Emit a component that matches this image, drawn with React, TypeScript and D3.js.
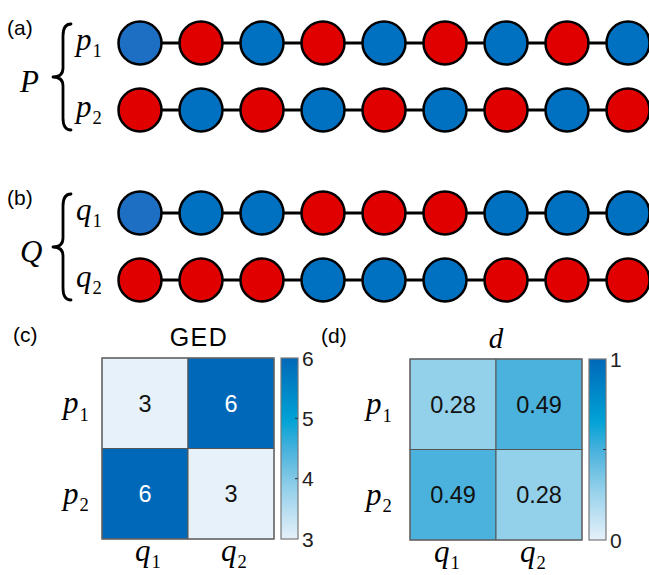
import React from "react";
import * as d3 from "d3";

// Chain colours: "B" blue, "R" red, "L" lighter blue (first node)
const chainP1 = ["L", "R", "B", "R", "B", "R", "B", "R", "B"];
const chainP2 = ["R", "B", "R", "B", "R", "B", "R", "B", "R"];
const chainQ1 = ["L", "B", "B", "R", "R", "R", "B", "B", "B"];
const chainQ2 = ["R", "R", "R", "B", "B", "B", "R", "R", "R"];

const rowLabels = ["1", "2"];
const colLabels = ["1", "2"];
const gedValues = [
  [3, 6],
  [6, 3],
];
const dValues = [
  [0.28, 0.49],
  [0.49, 0.28],
];
const gedTicks = [3, 4, 5, 6];
const dTicks = [0, 0.5, 1];
const dTickLabels = ["0", "", "1"];

const nodeFill: Record<string, string> = { B: "#0070c0", R: "#e00000", L: "#1d6fc4" };
const MATH = "'Liberation Serif', 'DejaVu Serif', serif";
const SANS = "'Liberation Sans', Arial, sans-serif";

// shared colormap on the normalised [0,1] range
const cmap = d3
  .scaleLinear<string>()
  .domain([0, 0.28, 0.49, 0.66, 1])
  .range(["#e6f1fa", "#93d0ea", "#4ab2dc", "#00a2d6", "#0068b8"])
  .interpolate(d3.interpolateRgb);

const xNodes = d3.scalePoint<number>().domain(d3.range(9)).range([140, 628]);

function Chain({ nodes, y }: { nodes: string[]; y: number }) {
  return (
    <g>
      <line x1={xNodes(0)} x2={xNodes(8)} y1={y} y2={y} stroke="#000" strokeWidth={3} />
      {nodes.map((c, i) => (
        <circle key={i} cx={xNodes(i)} cy={y} r={21.5} fill={nodeFill[c]} stroke="#000" strokeWidth={2.5} />
      ))}
    </g>
  );
}

function Brace({ x, y0, y1 }: { x: number; y0: number; y1: number }) {
  const xm = x - 8;
  const xt = x - 18;
  const ym = (y0 + y1) / 2;
  const p = `M${x},${y0} Q${xm},${y0} ${xm},${y0 + 12} L${xm},${ym - 9} Q${xm},${ym} ${xt},${ym} Q${xm},${ym} ${xm},${ym + 9} L${xm},${y1 - 12} Q${xm},${y1} ${x},${y1}`;
  return <path d={p} fill="none" stroke="#000" strokeWidth={2.8} strokeLinecap="round" strokeLinejoin="round" />;
}

function MathSub({ x, y, base, sub, size = 31 }: { x: number; y: number; base: string; sub: string; size?: number }) {
  return (
    <text x={x} y={y} fontFamily={MATH} fontSize={size} fill="#000">
      <tspan fontStyle="italic">{base}</tspan>
      <tspan fontSize={size * 0.6} dy={size * 0.24} dx={1}>
        {sub}
      </tspan>
    </text>
  );
}

function ChainBlock({ tag, big, small, rows, top }: { tag: string; big: string; small: string; rows: string[][]; top: number }) {
  const y1 = top;
  const y2 = top + 67;
  return (
    <g>
      <text x={7} y={top - 8} fontFamily={SANS} fontSize={21}>{`(${tag})`}</text>
      <text x={20} y={top + 49} fontFamily={MATH} fontStyle="italic" fontSize={31}>
        {big}
      </text>
      <Brace x={71} y0={top - 19} y1={top + 87} />
      <MathSub x={76} y={y1 + 7} base={small} sub="1" />
      <MathSub x={76} y={y2 + 7} base={small} sub="2" />
      <Chain nodes={rows[0]} y={y1} />
      <Chain nodes={rows[1]} y={y2} />
    </g>
  );
}

function Heatmap({
  tag,
  title,
  titleMath,
  titleX,
  values,
  vmin,
  vmax,
  ticks,
  tickLabels,
  x0,
  y0,
  rowLabelX,
  colLabelDx,
  fmt,
  whiteAbove,
}: {
  tag: string;
  title: string;
  titleMath: boolean;
  titleX: number;
  values: number[][];
  vmin: number;
  vmax: number;
  ticks: number[];
  tickLabels: string[];
  x0: number;
  y0: number;
  rowLabelX: number;
  colLabelDx: number;
  fmt: (v: number) => string;
  whiteAbove: number;
}) {
  const w = 172;
  const h = 181;
  const xs = d3.scaleBand<string>().domain(colLabels).range([x0, x0 + w]);
  const ys = d3.scaleBand<string>().domain(rowLabels).range([y0, y0 + h]);
  const norm = d3.scaleLinear().domain([vmin, vmax]).range([0, 1]);
  const cbX = x0 + w + 7;
  const cbW = 17;
  const cbY = d3.scaleLinear().domain([vmin, vmax]).range([y0 + h, y0]);
  const gradId = `grad-${tag}`;
  const stops = d3.range(0, 1.0001, 0.05);
  return (
    <g>
      <defs>
        <linearGradient id={gradId} x1="0" y1="1" x2="0" y2="0">
          {stops.map((s) => (
            <stop key={s} offset={s} stopColor={cmap(s)} />
          ))}
        </linearGradient>
      </defs>
      <text x={x0 - 89} y={y0 - 16} fontFamily={SANS} fontSize={21}>{`(${tag})`}</text>
      {titleMath ? (
        <text x={titleX} y={y0 - 11} textAnchor="middle" fontFamily={MATH} fontStyle="italic" fontSize={29}>
          {title}
        </text>
      ) : (
        <text x={titleX} y={y0 - 12} textAnchor="middle" fontFamily={SANS} fontSize={25} letterSpacing={1.5}>
          {title}
        </text>
      )}
      {values.map((row, i) =>
        row.map((v, j) => (
          <g key={`${i}-${j}`}>
            <rect
              x={xs(colLabels[j])}
              y={ys(rowLabels[i])}
              width={xs.bandwidth()}
              height={ys.bandwidth()}
              fill={cmap(norm(v))}
              stroke="#555"
              strokeWidth={1}
            />
            <text
              x={(xs(colLabels[j]) ?? 0) + xs.bandwidth() / 2}
              y={(ys(rowLabels[i]) ?? 0) + ys.bandwidth() / 2 + 8.5}
              textAnchor="middle"
              fontFamily={SANS}
              fontSize={23.5}
              fill={v >= whiteAbove ? "#fff" : "#111"}
            >
              {fmt(v)}
            </text>
          </g>
        ))
      )}
      <rect x={x0} y={y0} width={w} height={h} fill="none" stroke="#666" strokeWidth={1.2} />
      {rowLabels.map((r) => (
        <MathSub key={r} x={rowLabelX} y={(ys(r) ?? 0) + ys.bandwidth() / 2 + 10} base="p" sub={r} />
      ))}
      {colLabels.map((c) => (
        <MathSub key={c} x={(xs(c) ?? 0) + xs.bandwidth() / 2 + colLabelDx} y={y0 + h + 22} base="q" sub={c} />
      ))}
      <rect x={cbX} y={y0} width={cbW} height={h} fill={`url(#${gradId})`} stroke="#777" strokeWidth={1.2} />
      {ticks.map((t, i) => (
        <g key={t}>
          {t !== vmin && t !== vmax && (
            <line x1={cbX + cbW - 3} x2={cbX + cbW} y1={cbY(t)} y2={cbY(t)} stroke="#333" strokeWidth={1} />
          )}
          {tickLabels[i] && (
            <text x={cbX + cbW + 4} y={cbY(t) + 7.5} fontFamily={SANS} fontSize={21} fill="#222">
              {tickLabels[i]}
            </text>
          )}
        </g>
      ))}
    </g>
  );
}

export default function App() {
  return (
    <svg
      width={649}
      height={575}
      viewBox="0 0 649 575"
      style={{ position: "absolute", left: 0, top: 0, background: "#fff" }}
    >
      <ChainBlock tag="a" big="P" small="p" rows={[chainP1, chainP2]} top={43} />
      <ChainBlock tag="b" big="Q" small="q" rows={[chainQ1, chainQ2]} top={213} />
      <Heatmap
        tag="c"
        title="GED"
        titleMath={false}
        titleX={199}
        values={gedValues}
        vmin={3}
        vmax={6}
        ticks={gedTicks}
        tickLabels={gedTicks.map(String)}
        x0={102}
        y0={358}
        rowLabelX={63}
        colLabelDx={-10}
        fmt={(v) => String(v)}
        whiteAbove={5}
      />
      <Heatmap
        tag="d"
        title="d"
        titleMath={true}
        titleX={496}
        values={dValues}
        vmin={0}
        vmax={1}
        ticks={dTicks}
        tickLabels={dTickLabels}
        x0={410}
        y0={359}
        rowLabelX={366}
        colLabelDx={-19}
        fmt={(v) => v.toFixed(2)}
        whiteAbove={2}
      />
    </svg>
  );
}
